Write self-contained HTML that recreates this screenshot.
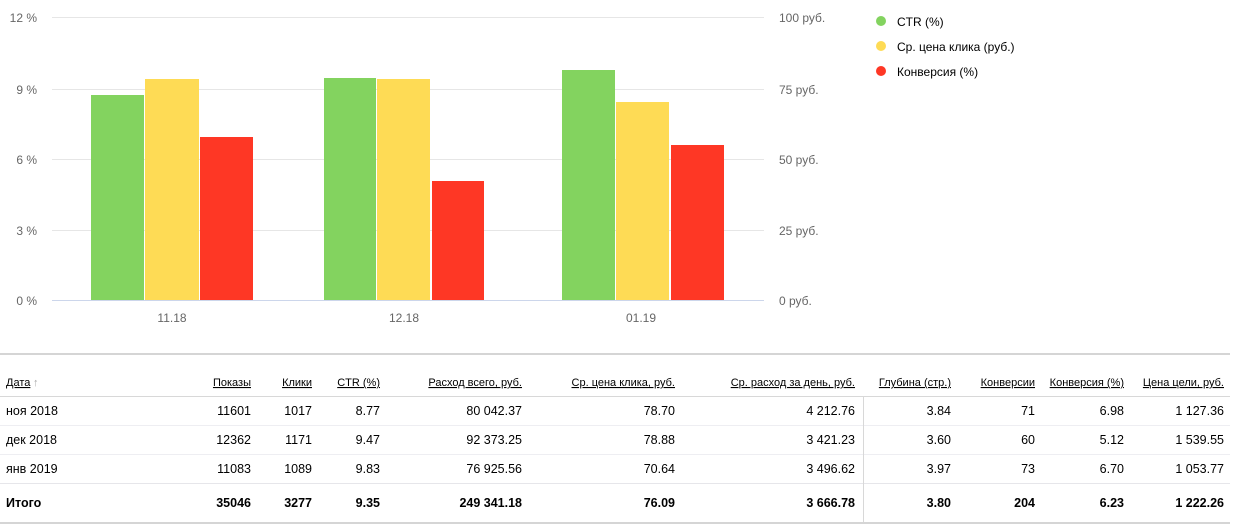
<!DOCTYPE html>
<html><head><meta charset="utf-8"><style>
html,body{margin:0;padding:0;background:#fff;width:1243px;height:531px;overflow:hidden}
svg{display:block}
text{font-family:"Liberation Sans",Arial,sans-serif}
</style></head><body>
<svg width="1243" height="531" xmlns="http://www.w3.org/2000/svg">
<g stroke="#e6e6e6" stroke-width="1">
<line x1="52" y1="17.5" x2="764" y2="17.5"/>
<line x1="52" y1="89.5" x2="764" y2="89.5"/>
<line x1="52" y1="159.5" x2="764" y2="159.5"/>
<line x1="52" y1="230.5" x2="764" y2="230.5"/>
</g>
<g font-size="12" fill="#666" text-anchor="end">
<text x="37" y="22">12 %</text><text x="37" y="94">9 %</text><text x="37" y="164">6 %</text><text x="37" y="235">3 %</text><text x="37" y="305">0 %</text>
</g>
<g font-size="12" fill="#666">
<text x="779" y="22">100 руб.</text><text x="779" y="94">75 руб.</text><text x="779" y="164">50 руб.</text><text x="779" y="235">25 руб.</text><text x="779" y="305">0 руб.</text>
</g>
<g>
<rect x="91" y="95" width="53" height="205" fill="#83d35f"/>
<rect x="145" y="79" width="54" height="221" fill="#fedb55"/>
<rect x="200" y="137" width="53" height="163" fill="#fe3725"/>
<rect x="324" y="78" width="52" height="222" fill="#83d35f"/>
<rect x="377" y="79" width="53" height="221" fill="#fedb55"/>
<rect x="432" y="181" width="52" height="119" fill="#fe3725"/>
<rect x="562" y="70" width="53" height="230" fill="#83d35f"/>
<rect x="616" y="102" width="53" height="198" fill="#fedb55"/>
<rect x="671" y="145" width="53" height="155" fill="#fe3725"/>
</g>
<line x1="52" y1="300.5" x2="764" y2="300.5" stroke="#ccd6eb"/>
<g font-size="12" fill="#666" text-anchor="middle">
<text x="172" y="322">11.18</text><text x="404" y="322">12.18</text><text x="641" y="322">01.19</text>
</g>
<circle cx="881" cy="21" r="5" fill="#83d35f"/>
<circle cx="881" cy="46" r="5" fill="#fedb55"/>
<circle cx="881" cy="71" r="5" fill="#fe3725"/>
<g font-size="12" fill="#000">
<text x="897" y="26">CTR (%)</text><text x="897" y="51">Ср. цена клика (руб.)</text><text x="897" y="76">Конверсия (%)</text>
</g>
<rect x="0" y="353" width="1230" height="2" fill="#d5d5d5"/>
<g stroke-width="1">
<line x1="0" y1="396.5" x2="1230" y2="396.5" stroke="#d8d8d8"/>
<line x1="0" y1="425.5" x2="1230" y2="425.5" stroke="#eeeef2"/>
<line x1="0" y1="454.5" x2="1230" y2="454.5" stroke="#eeeef2"/>
<line x1="0" y1="483.5" x2="1230" y2="483.5" stroke="#e6e6ea"/>
<line x1="0" y1="523" x2="1230" y2="523" stroke="#d5d5d5" stroke-width="2"/>
<line x1="863.5" y1="397" x2="863.5" y2="522" stroke="#d8d8d8"/>
</g>
<g font-size="11" fill="#000" text-decoration="underline">
<text x="6" y="386">Дата</text>
<g text-anchor="end">
<text x="251" y="386">Показы</text><text x="312" y="386">Клики</text><text x="380" y="386">CTR (%)</text><text x="522" y="386">Расход всего, руб.</text><text x="675" y="386">Ср. цена клика, руб.</text><text x="855" y="386">Ср. расход за день, руб.</text><text x="951" y="386">Глубина (стр.)</text><text x="1035" y="386">Конверсии</text><text x="1124" y="386">Конверсия (%)</text><text x="1224" y="386">Цена цели, руб.</text>
</g></g>
<text x="33" y="386" font-size="11" fill="#aaa">↑</text>
<g font-size="12.5" fill="#000">
<text x="6" y="415">ноя 2018</text><text x="6" y="444">дек 2018</text><text x="6" y="473">янв 2019</text>
<g text-anchor="end">
<text x="251" y="415">11601</text><text x="312" y="415">1017</text><text x="380" y="415">8.77</text><text x="522" y="415">80 042.37</text><text x="675" y="415">78.70</text><text x="855" y="415">4 212.76</text><text x="951" y="415">3.84</text><text x="1035" y="415">71</text><text x="1124" y="415">6.98</text><text x="1224" y="415">1 127.36</text>
<text x="251" y="444">12362</text><text x="312" y="444">1171</text><text x="380" y="444">9.47</text><text x="522" y="444">92 373.25</text><text x="675" y="444">78.88</text><text x="855" y="444">3 421.23</text><text x="951" y="444">3.60</text><text x="1035" y="444">60</text><text x="1124" y="444">5.12</text><text x="1224" y="444">1 539.55</text>
<text x="251" y="473">11083</text><text x="312" y="473">1089</text><text x="380" y="473">9.83</text><text x="522" y="473">76 925.56</text><text x="675" y="473">70.64</text><text x="855" y="473">3 496.62</text><text x="951" y="473">3.97</text><text x="1035" y="473">73</text><text x="1124" y="473">6.70</text><text x="1224" y="473">1 053.77</text>
</g></g>
<g font-size="12.5" fill="#000" font-weight="bold">
<text x="6" y="507">Итого</text>
<g text-anchor="end">
<text x="251" y="507">35046</text><text x="312" y="507">3277</text><text x="380" y="507">9.35</text><text x="522" y="507">249 341.18</text><text x="675" y="507">76.09</text><text x="855" y="507">3 666.78</text><text x="951" y="507">3.80</text><text x="1035" y="507">204</text><text x="1124" y="507">6.23</text><text x="1224" y="507">1 222.26</text>
</g></g>
</svg>
</body></html>
